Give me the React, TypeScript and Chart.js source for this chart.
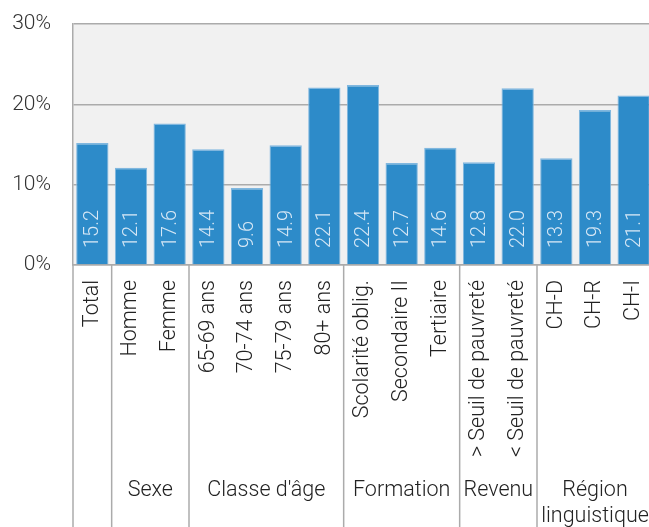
import React, { useEffect, useRef } from "react";
import { Chart, registerables } from "chart.js";

Chart.register(...registerables);

const categories = [
  "Total",
  "Homme",
  "Femme",
  "65-69 ans",
  "70-74 ans",
  "75-79 ans",
  "80+ ans",
  "Scolarité oblig.",
  "Secondaire II",
  "Tertiaire",
  "> Seuil de pauvreté",
  "< Seuil de pauvreté",
  "CH-D",
  "CH-R",
  "CH-I",
];
const values = [15.2, 12.1, 17.6, 14.4, 9.6, 14.9, 22.1, 22.4, 12.7, 14.6, 12.8, 22.0, 13.3, 19.3, 21.1];
const groupNames = ["", "Sexe", "Classe d'âge", "Formation", "Revenu", "Région\nlinguistique"];
const groupSizes = [1, 2, 4, 3, 2, 3];
const yTicks = [0, 10, 20, 30];

const FONT = "Roboto, 'Noto Sans', 'DejaVu Sans', sans-serif";
const GREY = "#ababab";

const decoPlugin = {
  id: "deco",
  beforeDraw(chart: any) {
    const { ctx, chartArea: a } = chart;
    ctx.save();
    ctx.fillStyle = "#f1f1f1";
    ctx.fillRect(a.left, a.top, a.right - a.left, a.bottom - a.top);
    ctx.restore();
  },
  afterDatasetsDraw(chart: any) {
    const { ctx } = chart;
    const meta = chart.getDatasetMeta(0);
    const yBase = chart.scales.y.getPixelForValue(0);
    ctx.save();
    ctx.fillStyle = "#d6e7f5";
    ctx.font = `300 20px ${FONT}`;
    ctx.textAlign = "left";
    ctx.textBaseline = "middle";
    meta.data.forEach((bar: any, i: number) => {
      ctx.save();
      ctx.translate(bar.x + 1, yBase - 17);
      ctx.rotate(-Math.PI / 2);
      ctx.fillText(values[i].toFixed(1), 0, 0);
      ctx.restore();
    });
    ctx.restore();
  },
  afterDraw(chart: any) {
    const { ctx, chartArea: a } = chart;
    const xs = chart.scales.x;
    const step = xs.getPixelForValue(1) - xs.getPixelForValue(0);
    const H = chart.height;
    ctx.save();
    ctx.strokeStyle = GREY;
    ctx.lineWidth = 1.5;
    let idx = 0;
    const boundaries: number[] = [];
    groupSizes.forEach((n) => {
      boundaries.push(xs.getPixelForValue(idx) - step / 2);
      idx += n;
    });
    boundaries.push(xs.getPixelForValue(idx - 1) + step / 2);
    boundaries.forEach((x) => {
      ctx.beginPath();
      ctx.moveTo(x, a.bottom);
      ctx.lineTo(x, H);
      ctx.stroke();
    });
    ctx.fillStyle = "#222";
    ctx.font = `300 21.5px ${FONT}`;
    ctx.textAlign = "center";
    ctx.textBaseline = "middle";
    idx = 0;
    groupSizes.forEach((n, g) => {
      const x0 = xs.getPixelForValue(idx) - step / 2;
      const x1 = xs.getPixelForValue(idx + n - 1) + step / 2;
      const cx = (x0 + x1) / 2;
      const lines = groupNames[g].split("\n");
      lines.forEach((ln, k) => {
        if (ln) ctx.fillText(ln, cx, 491 + k * 26);
      });
      idx += n;
    });
    ctx.restore();
  },
};

function zeroPad(scale: any) {
  scale.paddingLeft = 0;
  scale.paddingRight = 0;
  scale.paddingTop = 0;
  scale.paddingBottom = 0;
}

export default function App() {
  const ref = useRef<HTMLCanvasElement>(null);
  useEffect(() => {
    if (!ref.current) return;
    const chart = new Chart(ref.current, {
      type: "bar",
      data: {
        labels: categories,
        datasets: [
          {
            data: values,
            backgroundColor: "#2d8bc9",
            borderColor: "#80b7df",
            borderWidth: { top: 1.5, left: 1, right: 1, bottom: 0 },
            borderSkipped: false,
            barPercentage: 0.835,
            categoryPercentage: 1,
          },
        ],
      },
      options: {
        animation: false,
        responsive: false,
        devicePixelRatio: 1,
        layout: { padding: { top: 24, left: 0, right: 2, bottom: 0 } },
        plugins: { legend: { display: false }, tooltip: { enabled: false } },
        scales: {
          x: {
            grid: { display: false, drawTicks: false },
            border: { display: true, color: GREY, width: 1.5 },
            ticks: {
              autoSkip: false,
              maxRotation: 90,
              minRotation: 90,
              padding: 15,
              color: "#222",
              font: { family: FONT, size: 21.5, weight: "300" as any },
            },
            afterFit(scale: any) {
              scale.height = 262;
              zeroPad(scale);
            },
          },
          y: {
            min: 0,
            max: 30,
            afterBuildTicks(scale: any) {
              scale.ticks = yTicks.map((v) => ({ value: v }));
            },
            grid: { color: GREY, lineWidth: 1.5, drawTicks: false },
            border: { display: true, color: GREY, width: 1.5 },
            ticks: {
              padding: 22,
              color: "#333",
              font: { family: FONT, size: 21, weight: "300" as any },
              callback: (v: any) => `${v}%`,
            },
            afterFit(scale: any) {
              scale.width = 73;
              zeroPad(scale);
            },
          },
        },
      },
      plugins: [decoPlugin],
    });
    return () => chart.destroy();
  }, []);
  return (
    <div
      style={{
        position: "fixed",
        left: 0,
        top: 0,
        width: 649,
        height: 527,
        overflow: "hidden",
        background: "#fff",
      }}
    >
      <canvas ref={ref} width={655} height={527} style={{ width: 655, height: 527, display: "block" }} />
    </div>
  );
}
